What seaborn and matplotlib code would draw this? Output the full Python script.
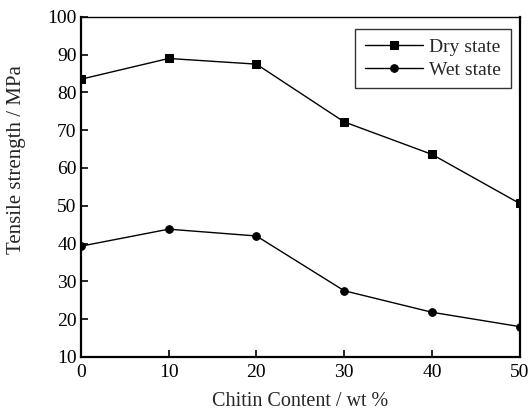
import matplotlib
matplotlib.use('Agg')
import matplotlib.pyplot as plt
import seaborn as sns
import pandas as pd

# values
chitin = [0, 10, 20, 30, 40, 50]
dry_state = [83.5, 89.0, 87.5, 72.2, 63.6, 50.6]
wet_state = [39.3, 43.8, 42.0, 27.5, 21.8, 18.0]

df = pd.DataFrame({
    'chitin': chitin * 2,
    'strength': dry_state + wet_state,
    'state': ['Dry state'] * len(chitin) + ['Wet state'] * len(chitin),
})

sns.set_style('ticks')
plt.rcParams['font.family'] = ['Liberation Serif', 'DejaVu Serif']

fig = plt.figure(figsize=(5.32, 4.13), dpi=100)
ax = fig.add_axes([0.152, 0.136, 0.825, 0.823])

sns.lineplot(data=df, x='chitin', y='strength', style='state',
             markers={'Dry state': 's', 'Wet state': 'o'}, dashes=False,
             color='black', linewidth=1.0, markersize=5.5, markeredgecolor='black',
             ax=ax)

ax.set_xlim(0, 50)
ax.set_ylim(10, 100)
ax.set_xticks(chitin)
ax.set_yticks(range(10, 101, 10))
ax.tick_params(direction='in', length=5, width=1.2, labelsize=14, colors='black', pad=3)
ax.tick_params(axis='x', pad=5)
for side in ['left', 'bottom', 'right']:
    ax.spines[side].set_linewidth(1.6)
ax.spines['top'].set_linewidth(1.0)
for sp in ax.spines.values():
    sp.set_color('black')

ax.set_xlabel('Chitin Content / wt %', fontsize=14.5)
ax.set_ylabel('Tensile strength / MPa', fontsize=15)
ax.xaxis.set_label_coords(0.5, -0.103)
ax.yaxis.set_label_coords(-0.125, 0.58)

leg = ax.legend(loc='upper right', bbox_to_anchor=(0.979, 0.965), borderaxespad=0,
                fontsize=14, handlelength=3.0, frameon=True, fancybox=False,
                edgecolor='black', borderpad=0.5, labelspacing=0.25, handletextpad=0.3)
leg.get_frame().set_linewidth(1.0)

fig.savefig('out.png', dpi=100)
